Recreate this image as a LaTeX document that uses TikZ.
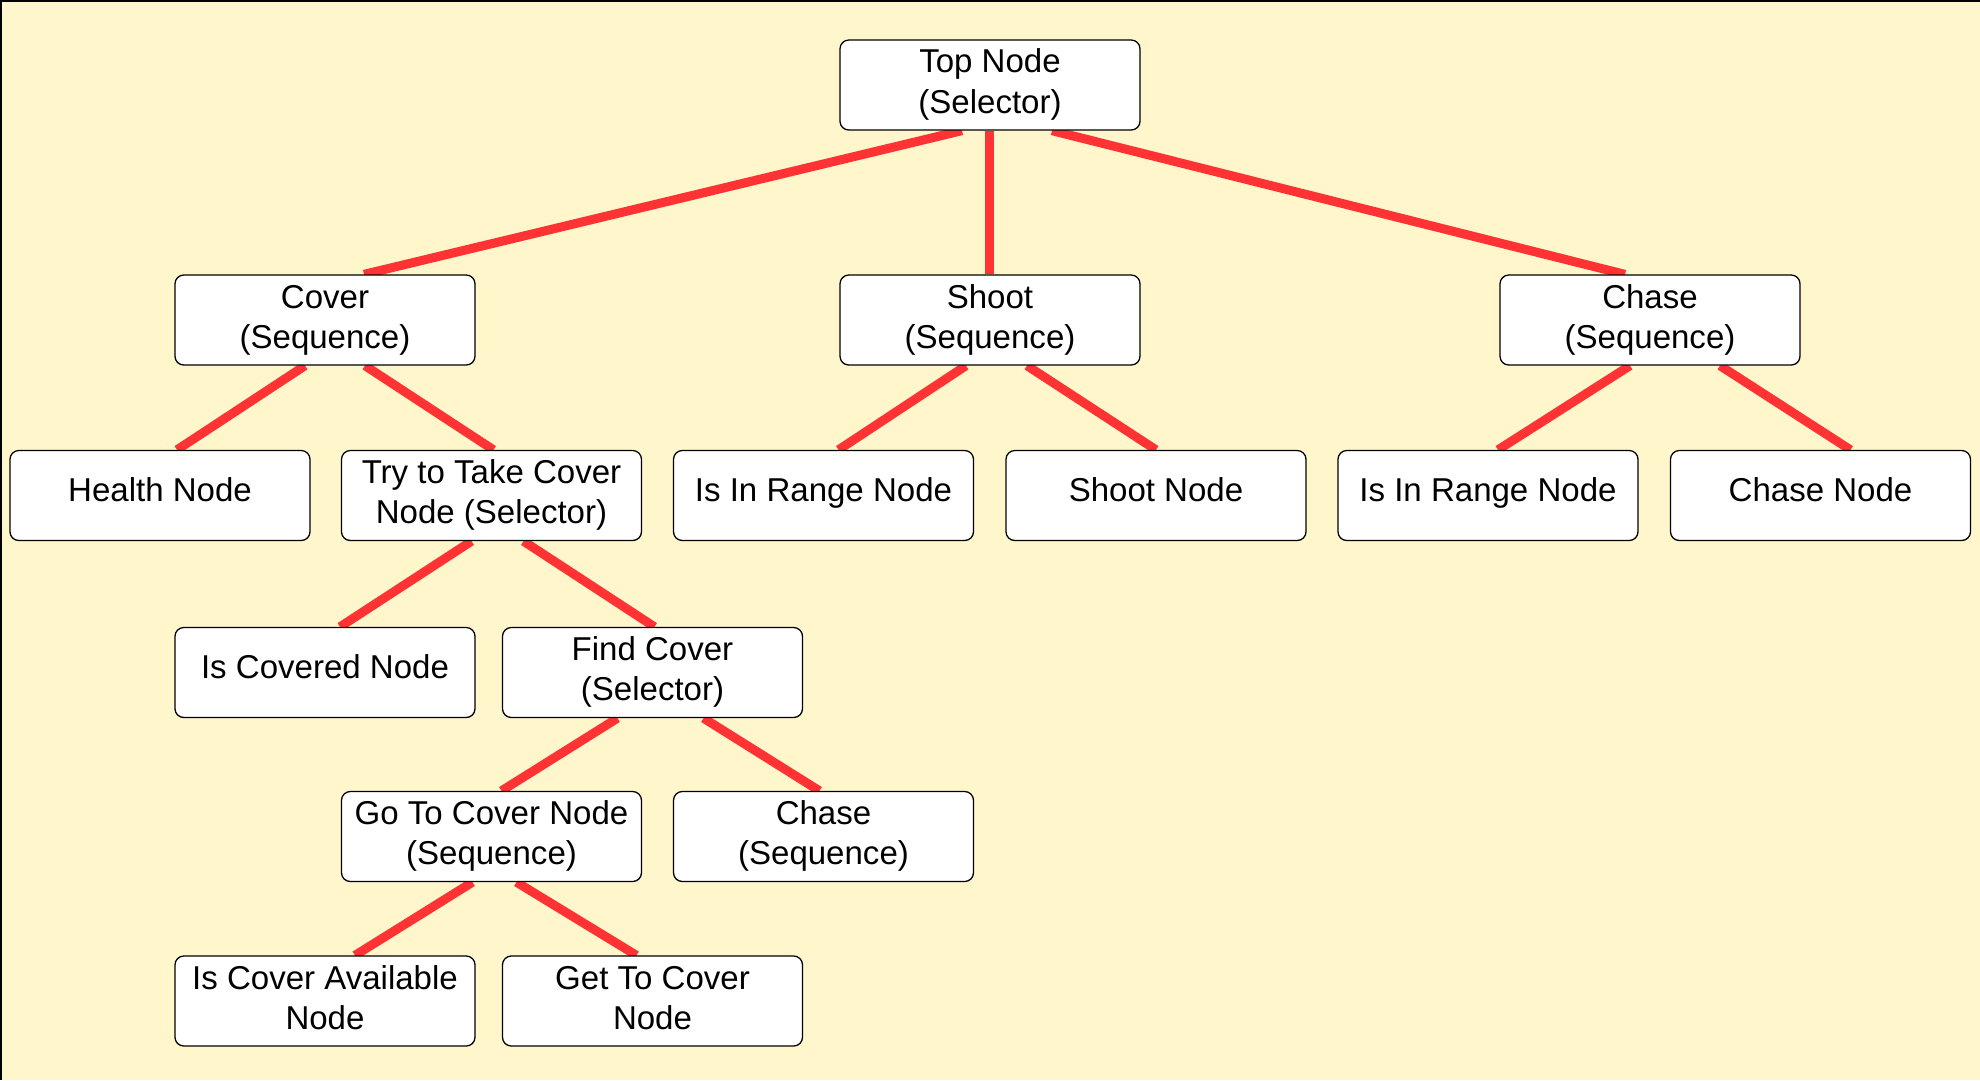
\documentclass[tikz,border=0pt]{standalone}
\usepackage{fontspec}
\setmainfont{Liberation Sans}
\usetikzlibrary{calc}
\definecolor{bgyellow}{HTML}{FFF6CC}
\definecolor{linkred}{HTML}{FF3333}
\pgfdeclarelayer{bglayer}
\pgfdeclarelayer{linklayer}
\pgfsetlayers{bglayer,linklayer,main}
\newcommand{\tline}[1]{\strut #1}
\begin{document}
\begin{tikzpicture}[x=0.1mm,y=-0.1mm,
  treebox/.style={draw=black, line width=0.37pt, fill=white, rounded corners=2.5pt,
    minimum width=30mm, minimum height=9mm, inner sep=0pt, align=center,
    font=\fontsize{9.4pt}{11.4pt}\selectfont},
  onebox/.style={treebox, text height=7.98pt, text depth=4.82pt},
  link/.style={draw=linkred, line width=0.9mm}]
\useasboundingbox (0,0) rectangle (1980,1080);
\begin{pgfonlayer}{bglayer}
  \fill[bgyellow] (0,0) rectangle (1980,1080);
  \fill[black] (0,0) rectangle (1980,2);
  \fill[black] (0,0) rectangle (2,1080);
\end{pgfonlayer}

% level 1
\node[treebox] (top) at (990,85) {\tline{Top Node}\\\tline{(Selector)}};
% level 2
\node[treebox] (cover) at (325,320) {\tline{Cover}\\\tline{(Sequence)}};
\node[treebox] (shoot) at (990,320) {\tline{Shoot}\\\tline{(Sequence)}};
\node[treebox] (chase) at (1650,320) {\tline{Chase}\\\tline{(Sequence)}};
% level 3
\node[onebox] (health) at (160,495.5) {Health Node};
\node[treebox] (try) at (491.5,495.5) {\tline{Try to Take Cover}\\\tline{Node (Selector)}};
\node[onebox] (inrange) at (823.5,495.5) {Is In Range Node};
\node[onebox] (shootn) at (1156,495.5) {Shoot Node};
\node[onebox] (inrangeb) at (1488,495.5) {Is In Range Node};
\node[onebox] (chasen) at (1820.5,495.5) {Chase Node};
% level 4
\node[onebox] (covered) at (325,672.5) {Is Covered Node};
\node[treebox] (find) at (652.5,672.5) {\tline{Find Cover}\\\tline{(Selector)}};
% level 5
\node[treebox] (goto) at (491.5,836.5) {\tline{Go To Cover Node}\\\tline{(Sequence)}};
\node[treebox] (chaseb) at (823.5,836.5) {\tline{Chase}\\\tline{(Sequence)}};
% level 6
\node[treebox] (avail) at (325,1001) {\tline{Is Cover Available}\\\tline{Node}};
\node[treebox] (getto) at (652.5,1001) {\tline{Get To Cover}\\\tline{Node}};

\begin{pgfonlayer}{linklayer}
  \draw[link] ($(top.south)+(-28,0)$) -- ($(cover.north)+(39,0)$);
  \draw[link] ($(top.south)+(-1,0)$) -- ($(shoot.north)+(-1,0)$);
  \draw[link] ($(top.south)+(62,0)$) -- ($(chase.north)+(-25,0)$);
  \draw[link] ($(cover.south)+(-20,0)$) -- ($(health.north)+(17,0)$);
  \draw[link] ($(cover.south)+(40,0)$) -- ($(try.north)+(2,0)$);
  \draw[link] ($(shoot.south)+(-24,0)$) -- ($(inrange.north)+(15,0)$);
  \draw[link] ($(shoot.south)+(37,0)$) -- ($(shootn.north)+(0,0)$);
  \draw[link] ($(chase.south)+(-20,0)$) -- ($(inrangeb.north)+(10,0)$);
  \draw[link] ($(chase.south)+(70,0)$) -- ($(chasen.north)+(30,0)$);
  \draw[link] ($(try.south)+(-20,0)$) -- ($(covered.north)+(15,0)$);
  \draw[link] ($(try.south)+(32,0)$) -- ($(find.north)+(2,0)$);
  \draw[link] ($(find.south)+(-35,0)$) -- ($(goto.north)+(10,0)$);
  \draw[link] ($(find.south)+(51,0)$) -- ($(chaseb.north)+(-4,0)$);
  \draw[link] ($(goto.south)+(-19,0)$) -- ($(avail.north)+(30,0)$);
  \draw[link] ($(goto.south)+(25,0)$) -- ($(getto.north)+(-16,0)$);
\end{pgfonlayer}
\end{tikzpicture}
\end{document}
